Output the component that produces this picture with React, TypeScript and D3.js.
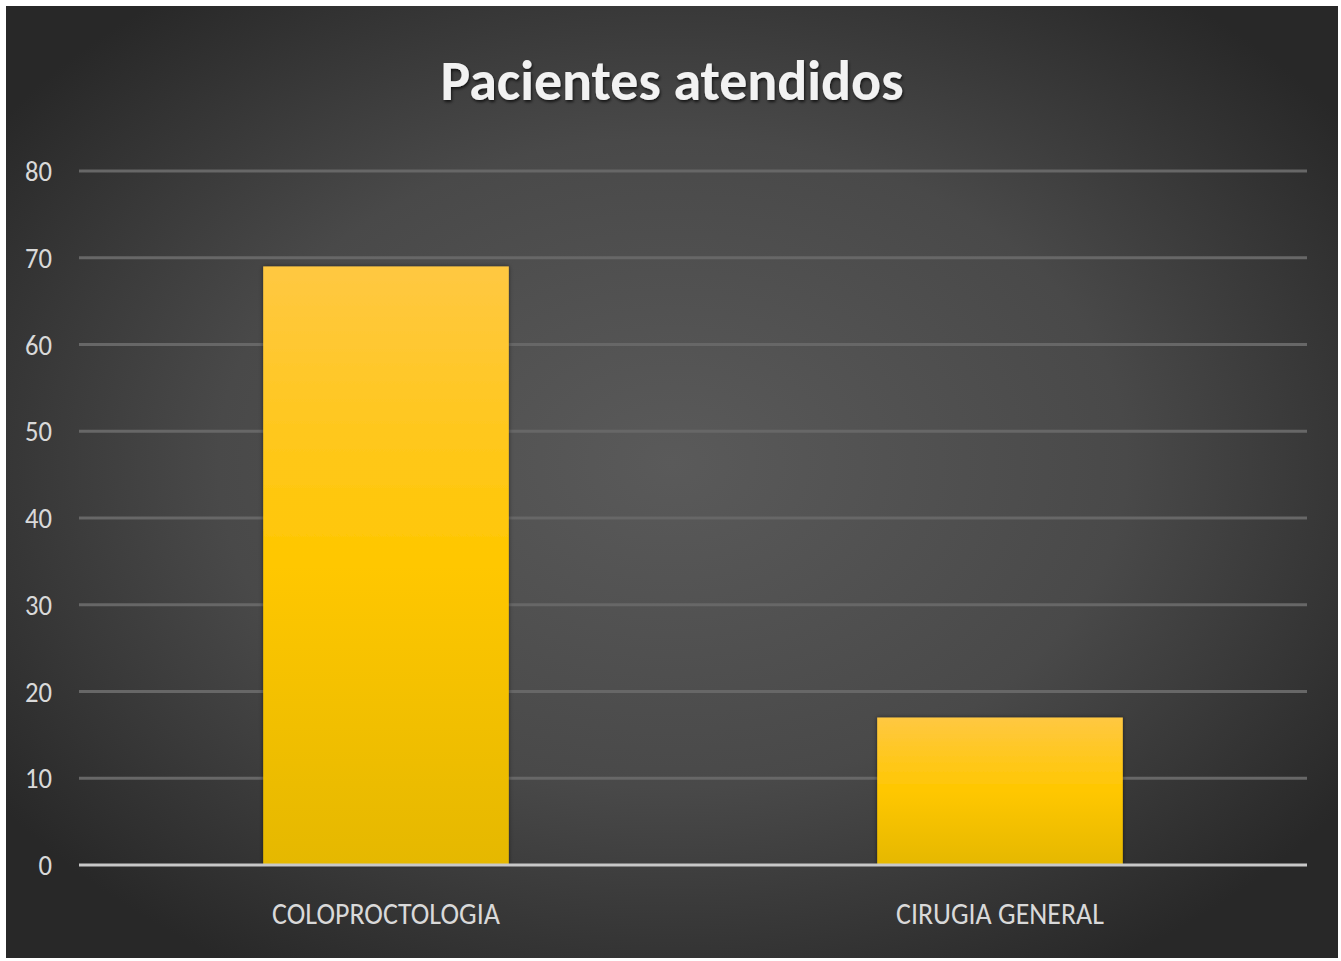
import React from "react";
import * as d3 from "d3";

const title = "Pacientes atendidos";
const categories = ["COLOPROCTOLOGIA", "CIRUGIA GENERAL"];
const values = [69, 17];
const yTicks = [0, 10, 20, 30, 40, 50, 60, 70, 80];

const W = 1341;
const H = 961;
const frame = { x: 6, y: 6, w: 1332, h: 952 };
const plot = { left: 79, right: 1307, top: 171, bottom: 865 };

export default function App() {
  const x = d3
    .scaleBand<string>()
    .domain(categories)
    .range([plot.left, plot.right])
    .paddingInner(0.6)
    .paddingOuter(0.3);
  const y = d3.scaleLinear().domain([0, 80]).range([plot.bottom, plot.top]);

  const font = "Calibri, 'Liberation Sans Narrow', 'Open Sans', sans-serif";

  return (
    <svg
      width={W}
      height={H}
      style={{ position: "absolute", left: 0, top: 0, background: "#fff" }}
    >
      <defs>
        <radialGradient id="bg" cx="50%" cy="48%" r="62%">
          <stop offset="0%" stopColor="#5a5a5a" />
          <stop offset="55%" stopColor="#494949" />
          <stop offset="100%" stopColor="#282828" />
        </radialGradient>
        <linearGradient id="bar" x1="0" y1="0" x2="0" y2="1">
          <stop offset="0%" stopColor="#ffc842" />
          <stop offset="50%" stopColor="#ffc700" />
          <stop offset="100%" stopColor="#e5b800" />
        </linearGradient>
        <filter id="shadow" x="-10%" y="-10%" width="120%" height="130%">
          <feDropShadow dx="1" dy="2" stdDeviation="1.5" floodColor="#000" floodOpacity="0.7" />
        </filter>
        <filter id="barShadow" x="-10%" y="-10%" width="120%" height="120%">
          <feDropShadow dx="0" dy="0" stdDeviation="2" floodColor="#000" floodOpacity="0.5" />
        </filter>
      </defs>
      <rect x={frame.x} y={frame.y} width={frame.w} height={frame.h} fill="url(#bg)" />

      <text
        x={672}
        y={100}
        textAnchor="middle"
        fill="#f2f2f2"
        fontFamily={font}
        fontWeight="bold"
        fontSize={56}
        textLength={463}
        lengthAdjust="spacingAndGlyphs"
        filter="url(#shadow)"
      >
        {title}
      </text>

      {yTicks.map((t) => (
        <g key={t}>
          {t !== 0 && (
            <line
              x1={plot.left}
              x2={plot.right}
              y1={y(t)}
              y2={y(t)}
              stroke="#676767"
              strokeWidth={3}
            />
          )}
          <text
            x={52}
            y={y(t) + 10}
            textAnchor="end"
            fill="#d9d9d9"
            fontFamily={font}
            fontSize={29}
            textLength={String(t).length * 13.5}
            lengthAdjust="spacingAndGlyphs"
          >
            {t}
          </text>
        </g>
      ))}

      {categories.map((c, i) => (
        <rect
          key={c}
          x={x(c)}
          y={y(values[i])}
          width={x.bandwidth()}
          height={y(0) - y(values[i])}
          fill="url(#bar)"
          filter="url(#barShadow)"
        />
      ))}

      <line
        x1={plot.left}
        x2={plot.right}
        y1={y(0)}
        y2={y(0)}
        stroke="#c8c8c8"
        strokeWidth={3}
      />

      {categories.map((c) => (
        <text
          key={c}
          x={(x(c) as number) + x.bandwidth() / 2}
          y={924}
          textAnchor="middle"
          fill="#d9d9d9"
          fontFamily={font}
          fontSize={31}
          textLength={c === "COLOPROCTOLOGIA" ? 228 : 208}
          lengthAdjust="spacingAndGlyphs"
        >
          {c}
        </text>
      ))}
    </svg>
  );
}
